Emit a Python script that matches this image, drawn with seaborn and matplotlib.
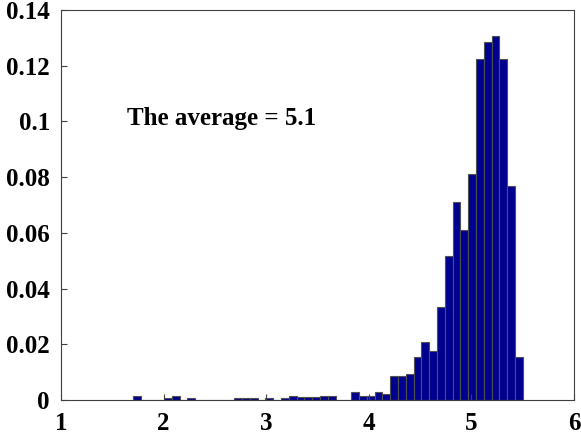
import pandas as pd
import seaborn as sns
import matplotlib
matplotlib.use("Agg")
import matplotlib.pyplot as plt
from matplotlib.ticker import FuncFormatter

# histogram: 50 bins from 1.70 to 5.50, fraction per bin
bin_lo = 1.70
bin_hi = 5.50
n_bins = 50
fractions = [
    0.0014, 0, 0, 0, 0.0007, 0.0014, 0, 0.0007, 0, 0,
    0, 0, 0, 0.0007, 0.0007, 0.0007, 0, 0.0007, 0, 0.0007,
    0.0014, 0.001, 0.001, 0.001, 0.0014, 0.0014, 0, 0, 0.0027, 0.0014,
    0.0014, 0.0027, 0.0021, 0.0087, 0.0087, 0.0094, 0.0155, 0.0208, 0.0175, 0.0335,
    0.0516, 0.071, 0.061, 0.081, 0.1224, 0.1285, 0.1306, 0.1224, 0.077, 0.0155,
]
x_ticks = [1, 2, 3, 4, 5, 6]
y_ticks = [0, 0.02, 0.04, 0.06, 0.08, 0.1, 0.12, 0.14]
note = "The average = 5.1"

width = (bin_hi - bin_lo) / n_bins
df = pd.DataFrame({
    "center": [bin_lo + width * (i + 0.5) for i in range(n_bins)],
    "frac": fractions,
})

plt.rcParams['font.family'] = ['Liberation Serif', 'DejaVu Serif']
plt.rcParams['font.weight'] = 'bold'

fig = plt.figure(figsize=(5.81, 4.36), dpi=100)
ax = fig.add_axes([0.105, 0.0826, 0.883, 0.8944])

sns.histplot(data=df, x="center", weights="frac", bins=n_bins,
             binrange=(bin_lo, bin_hi), ax=ax,
             color="#000090", alpha=1, edgecolor="#505050", linewidth=0.8)

ax.set_xlim(1, 6)
ax.set_ylim(0, 0.14)
ax.set_xticks(x_ticks)
ax.set_yticks(y_ticks)
ax.yaxis.set_major_formatter(FuncFormatter(lambda v, p: "%g" % v))
ax.tick_params(direction="in", length=4, width=0.8, labelsize=18, color="#404040")
ax.tick_params(axis="x", pad=8.5)
ax.tick_params(axis="y", pad=8)
for lbl in ax.get_xticklabels() + ax.get_yticklabels():
    lbl.set_fontweight("bold")
ax.set_xlabel("")
ax.set_ylabel("")
for s in ax.spines.values():
    s.set_color("#404040")
    s.set_linewidth(0.8)

ax.text(1.645, 0.1012, note, fontsize=18, fontweight="bold", ha="left", va="center")

plt.savefig("out.png", dpi=100)
